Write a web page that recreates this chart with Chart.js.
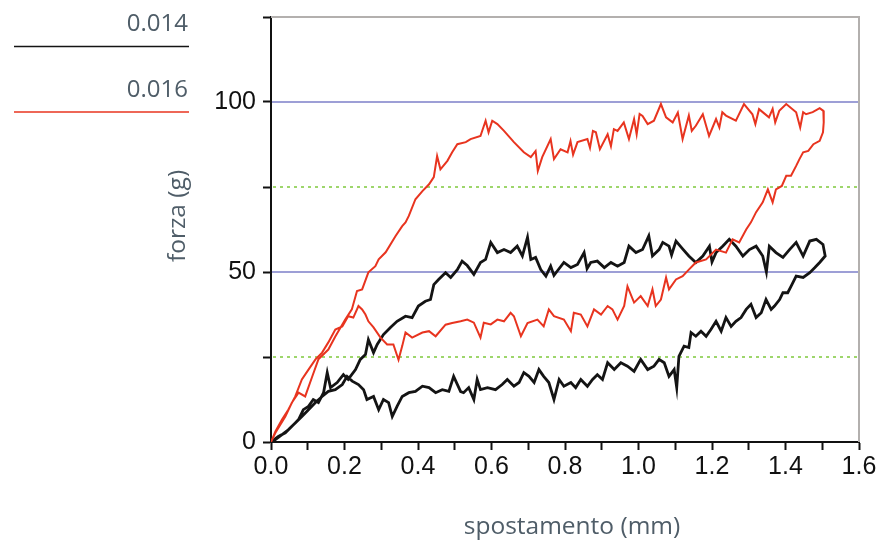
<!DOCTYPE html>
<html>
<head>
<meta charset="utf-8">
<script src="https://cdn.jsdelivr.net/npm/chart.js@4.4.1/dist/chart.umd.min.js"></script>
<style>
  html, body { margin: 0; padding: 0; background: #ffffff; }
  #wrap { width: 884px; height: 545px; position: relative; }
</style>
</head>
<body>
<div id="wrap"><canvas id="c" width="884" height="545"></canvas></div>
<script>
// ---------- data ----------
const seriesLabels = ['0.014', '0.016'];
const xAxisTitle = 'spostamento (mm)';
const yAxisTitle = 'forza (g)';
const xTicksLabelled = ['0.0', '0.2', '0.4', '0.6', '0.8', '1.0', '1.2', '1.4', '1.6'];
const yTicksLabelled = [0, 50, 100];
const refSolid = [50, 100];
const refDotted = [25, 75];

// series 0.014 (black loop): [spostamento, forza]
const black014 = [
  [0,0],[0.02,1.6],[0.039,2.7],[0.057,4.6],[0.075,6.6],[0.088,9.5],[0.102,10.5],[0.115,12.5],[0.129,11.6],[0.143,14.5],
  [0.153,20.4],[0.162,16],[0.18,17.5],[0.197,19.8],[0.21,18.4],[0.23,21.3],[0.243,24.3],[0.257,25.7],[0.265,30.1],[0.279,26.3],
  [0.289,28.7],[0.306,31.6],[0.325,33.7],[0.343,35.5],[0.366,37],[0.384,36.6],[0.401,40],[0.42,41.4],[0.434,41.9],[0.443,46.3],
  [0.456,47.8],[0.475,49.8],[0.489,48.4],[0.507,50.7],[0.52,53.2],[0.534,51.9],[0.552,49.3],[0.57,52.8],[0.584,53.7],[0.598,58.7],
  [0.616,55.7],[0.634,56.6],[0.652,55.7],[0.67,57.6],[0.684,54.7],[0.698,60.2],[0.707,53.7],[0.72,54.3],[0.734,50.7],[0.748,48.8],
  [0.761,51.7],[0.77,49],[0.779,50.3],[0.797,52.8],[0.816,51.3],[0.834,52.2],[0.852,55.7],[0.86,51],[0.87,52.8],[0.888,53.2],
  [0.907,51.3],[0.925,52.8],[0.943,51.7],[0.961,52.8],[0.974,57.6],[0.993,55.7],[1.011,56.6],[1.028,60.6],[1.038,54.7],[1.056,56.6],
  [1.066,58.7],[1.083,57.6],[1.09,55],[1.102,59.1],[1.12,56.8],[1.137,54.7],[1.156,52.8],[1.175,54.7],[1.193,57.6],[1.2,53],
  [1.211,55.7],[1.229,57.6],[1.247,59.6],[1.265,57.6],[1.284,54.7],[1.302,56.6],[1.32,57.6],[1.338,54.7],[1.348,50],[1.356,57.6],
  [1.374,55.7],[1.393,54.3],[1.411,56.6],[1.429,58.7],[1.448,54.7],[1.466,59.1],[1.484,59.6],[1.502,58.1],[1.508,54.7],[1.493,52.8],
  [1.48,51.3],[1.466,49.8],[1.448,48.4],[1.429,48.8],[1.415,45.8],[1.406,43.9],[1.393,43.9],[1.384,41.9],[1.37,40],[1.361,39],
  [1.347,41.9],[1.334,38],[1.32,36.6],[1.306,40.5],[1.293,39],[1.279,36.6],[1.265,35.5],[1.252,34],[1.238,36.6],[1.225,32.6],
  [1.211,35.5],[1.197,33.1],[1.184,31.1],[1.17,32.6],[1.156,31.1],[1.143,32.2],[1.137,27.8],[1.124,28.2],[1.11,25.2],[1.104,16],
  [1.097,21.3],[1.083,19.3],[1.07,23.3],[1.056,24.3],[1.042,22.3],[1.025,21.3],[1.006,24.3],[0.988,20.8],[0.97,22.3],[0.952,23.3],
  [0.934,21.3],[0.916,23.3],[0.902,18.4],[0.888,19.8],[0.875,18.4],[0.861,16.4],[0.843,18.4],[0.829,16],[0.816,17.5],[0.797,16.4],
  [0.784,18.4],[0.77,12.5],[0.756,17.5],[0.742,19.3],[0.729,21.3],[0.716,17.5],[0.702,19.3],[0.688,20.4],[0.675,17.5],[0.661,16.4],
  [0.643,18.4],[0.629,16.9],[0.611,15.4],[0.589,16],[0.57,15.4],[0.561,18.4],[0.552,12.5],[0.538,16],[0.524,14.5],[0.516,14.8],
  [0.497,19.3],[0.484,14.9],[0.466,15.4],[0.448,14.5],[0.43,16],[0.412,16.4],[0.393,14.9],[0.375,14.5],[0.357,13.4],[0.343,10.5],
  [0.33,7.5],[0.32,11.6],[0.306,12.5],[0.293,9.5],[0.279,13.4],[0.261,12.5],[0.252,15.4],[0.238,16.9],[0.221,17.9],[0.207,19.3],
  [0.194,16.9],[0.175,15.4],[0.156,14.9],[0.139,13.4],[0.121,11.6],[0.102,9.5],[0.084,7.5],[0.066,5.6],[0.047,3.6],[0.03,2.2],
  [0.012,0.7],[0,0]
];

// series 0.016 (red loop): [spostamento, forza]
const red016 = [
  [0,0],[0.012,2.7],[0.039,7.5],[0.057,11.6],[0.075,14.5],[0.093,13.4],[0.112,19.2],[0.129,24.3],[0.156,27.2],[0.175,31],
  [0.202,36],[0.22,39],[0.234,44.4],[0.248,44.9],[0.265,49.9],[0.284,51.7],[0.293,53.7],[0.312,55.8],[0.339,60.6],[0.357,63.5],
  [0.366,64.6],[0.375,66.5],[0.393,71.4],[0.412,73.8],[0.43,75.8],[0.443,77.9],[0.452,84.1],[0.461,80.2],[0.48,82.7],[0.493,85.2],
  [0.507,87.6],[0.53,88.2],[0.543,89.1],[0.57,90],[0.584,94.5],[0.592,91.1],[0.602,94.5],[0.616,93.5],[0.634,91.5],[0.661,88.2],
  [0.688,85.2],[0.707,83.8],[0.72,85.6],[0.726,79.7],[0.738,83.8],[0.761,89.1],[0.77,83.2],[0.788,86.1],[0.807,85.2],[0.815,88.5],
  [0.822,84.5],[0.834,88.2],[0.861,89.1],[0.868,86.5],[0.876,91.5],[0.884,91.1],[0.895,86.1],[0.916,90.5],[0.925,87],[0.933,92],
  [0.943,91.5],[0.96,94],[0.974,89.1],[0.988,95],[0.995,90.5],[1.003,96.5],[1.011,95.9],[1.025,93.5],[1.042,94.5],[1.061,99.4],
  [1.075,95.5],[1.093,94],[1.107,96.9],[1.12,89.1],[1.137,96],[1.145,91.5],[1.156,93],[1.175,96.4],[1.192,90],[1.211,95],
  [1.22,92.5],[1.228,97],[1.238,96],[1.265,94.5],[1.287,99.4],[1.31,96.4],[1.318,93.5],[1.328,97.9],[1.355,95.5],[1.365,98],
  [1.372,94],[1.383,97.4],[1.402,99.4],[1.429,97],[1.44,92.5],[1.448,97],[1.456,96.4],[1.474,97],[1.493,98.2],[1.503,97.4],
  [1.504,94],[1.502,91.1],[1.493,88.6],[1.476,87.6],[1.462,85.6],[1.448,85.2],[1.438,83.2],[1.429,81.2],[1.415,78.3],[1.402,78.3],
  [1.39,75.3],[1.374,74.3],[1.365,70.5],[1.352,74.3],[1.338,70.5],[1.32,67.6],[1.306,64.6],[1.293,62.5],[1.274,58.7],[1.256,59.6],
  [1.238,55.7],[1.211,56.6],[1.184,53.7],[1.156,52.8],[1.137,50.7],[1.12,48.8],[1.102,47.8],[1.083,44.9],[1.075,48.4],[1.061,41.9],
  [1.047,40],[1.038,44.9],[1.025,40],[1.006,42.9],[0.988,41],[0.97,45.8],[0.961,40],[0.943,36],[0.929,39],[0.916,40],
  [0.898,37.5],[0.879,39],[0.861,34],[0.843,37.5],[0.824,38],[0.816,32.6],[0.797,36],[0.77,37],[0.756,39],[0.742,34],
  [0.725,36],[0.698,35],[0.68,31.1],[0.661,37],[0.652,38],[0.634,35.5],[0.616,36],[0.598,34.6],[0.579,35.1],[0.57,30.7],
  [0.552,35.1],[0.534,36],[0.516,35.5],[0.493,35],[0.475,34.5],[0.448,31.1],[0.43,32.6],[0.412,32.2],[0.384,30.7],[0.366,32.2],
  [0.357,28.2],[0.347,24.2],[0.333,28.7],[0.316,28.7],[0.298,30.7],[0.279,33.7],[0.265,35.5],[0.257,37.5],[0.248,39],[0.238,40],
  [0.224,36.6],[0.21,37],[0.194,34],[0.175,33.1],[0.156,29.3],[0.139,26.3],[0.121,24.3],[0.102,21.3],[0.084,18.4],[0.066,13.4],
  [0.047,9.5],[0.03,6.6],[0.012,3.1],[0,0]
];

// ---------- styles ----------
const seriesColors = ['#141414', '#e8341f'];
const textGray = '#4f5d68';

function pts(arr) { return arr.map(p => ({ x: p[0], y: p[1] })); }

const refLinesPlugin = {
  id: 'refLines',
  beforeDatasetsDraw(chart) {
    const { ctx, chartArea: a, scales: { y } } = chart;
    ctx.save();
    ctx.strokeStyle = '#b3b0ae';
    ctx.lineWidth = 2;
    ctx.beginPath();
    ctx.moveTo(a.left, a.top);
    ctx.lineTo(a.right, a.top);
    ctx.lineTo(a.right, a.bottom);
    ctx.stroke();
    ctx.strokeStyle = '#9ed66c';
    ctx.lineWidth = 2;
    ctx.setLineDash([3, 4]);
    refDotted.forEach(v => {
      const py = Math.round(y.getPixelForValue(v));
      ctx.beginPath(); ctx.moveTo(a.left + 2, py); ctx.lineTo(a.right - 1, py); ctx.stroke();
    });
    ctx.setLineDash([]);
    ctx.strokeStyle = '#9d9fd6';
    ctx.lineWidth = 2.2;
    refSolid.forEach(v => {
      const py = y.getPixelForValue(v);
      ctx.beginPath(); ctx.moveTo(a.left + 1, py); ctx.lineTo(a.right - 1, py); ctx.stroke();
    });
    ctx.restore();
  },
  afterDraw(chart) {
    const { ctx } = chart;
    ctx.save();
    ctx.font = '24px "Open Sans"';
    ctx.fillStyle = textGray;
    ctx.textAlign = 'right';
    ctx.textBaseline = 'alphabetic';
    const legY = [31, 97];
    const lineY = [46.5, 112];
    seriesLabels.forEach((lab, i) => {
      ctx.fillText(lab, 188, legY[i]);
      ctx.strokeStyle = seriesColors[i];
      ctx.lineWidth = 1.6;
      ctx.beginPath(); ctx.moveTo(14, lineY[i]); ctx.lineTo(189, lineY[i]); ctx.stroke();
    });
    ctx.font = '24.5px "Open Sans"';
    ctx.textAlign = 'center';
    ctx.textBaseline = 'middle';
    ctx.fillText(xAxisTitle, 572, 527);
    ctx.translate(178, 216);
    ctx.rotate(-Math.PI / 2);
    ctx.fillText(yAxisTitle, 0, 0);
    ctx.restore();
  }
};

new Chart(document.getElementById('c'), {
  type: 'scatter',
  data: {
    datasets: [
      { label: seriesLabels[1], data: pts(red016), showLine: true, borderColor: seriesColors[1], borderWidth: 2, pointRadius: 0, tension: 0, fill: false },
      { label: seriesLabels[0], data: pts(black014), showLine: true, borderColor: seriesColors[0], borderWidth: 2.8, pointRadius: 0, tension: 0, fill: false }
    ]
  },
  options: {
    responsive: false,
    animation: false,
    devicePixelRatio: 1,
    layout: { padding: { left: 0, top: 17, right: 25, bottom: 0 } },
    plugins: { legend: { display: false }, tooltip: { enabled: false } },
    scales: {
      x: {
        type: 'linear', min: 0, max: 1.6,
        afterFit: s => { s.height = 103; s.paddingLeft = 0; s.paddingRight = 0; },
        ticks: {
          stepSize: 0.1, autoSkip: false, maxRotation: 0, padding: 2,
          color: '#111', font: { family: '"Liberation Sans", Arial, sans-serif', size: 25 },
          callback: v => { const k = Math.round(v * 10); return k % 2 === 0 ? xTicksLabelled[k / 2] : ''; }
        },
        grid: { drawOnChartArea: false, drawTicks: true, tickLength: 8, tickColor: '#111', tickWidth: 2 },
        border: { color: '#111', width: 2 }
      },
      y: {
        type: 'linear', min: 0, max: 125,
        afterFit: s => { s.width = 271; s.paddingTop = 0; s.paddingBottom = 0; },
        ticks: {
          stepSize: 25, autoSkip: false, padding: 7,
          color: '#111', font: { family: '"Liberation Sans", Arial, sans-serif', size: 25 },
          callback: v => yTicksLabelled.includes(v) ? String(v) : ''
        },
        grid: { drawOnChartArea: false, drawTicks: true, tickLength: 8, tickColor: '#111', tickWidth: 2 },
        border: { color: '#111', width: 2 }
      }
    }
  },
  plugins: [refLinesPlugin]
});
</script>
</body>
</html>
